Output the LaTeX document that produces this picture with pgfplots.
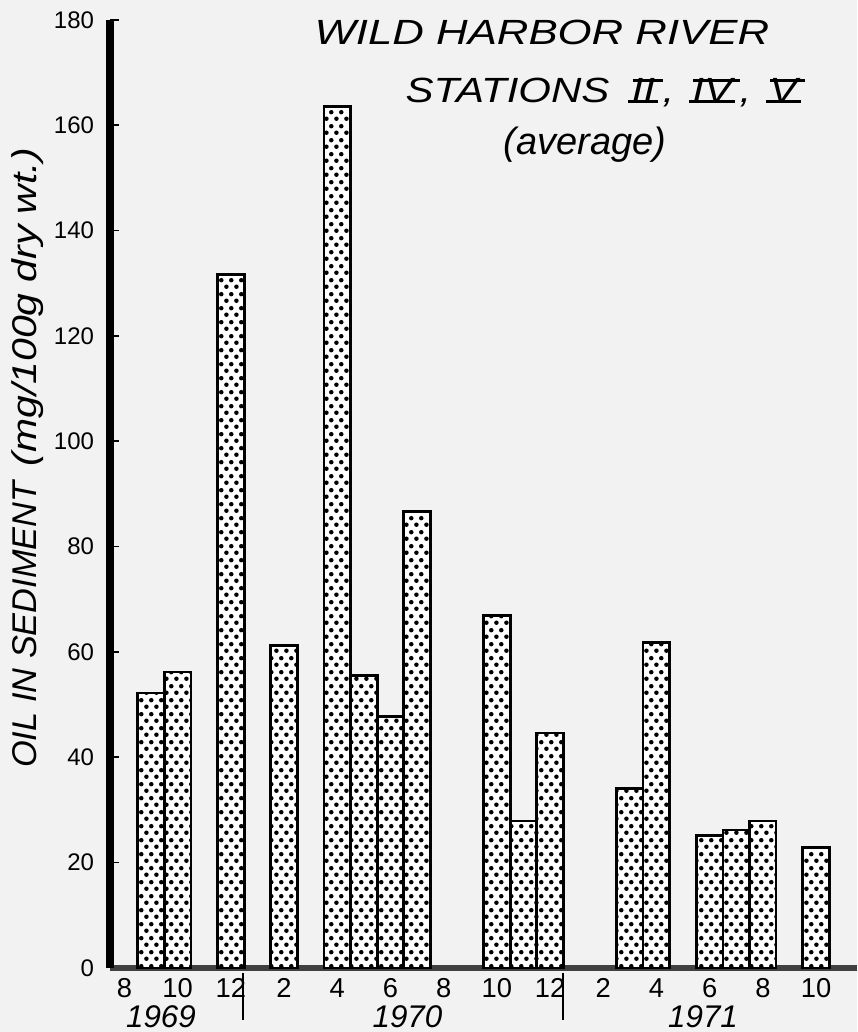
\documentclass[border=0pt]{standalone}
\usepackage{pgfplots}
\pgfplotsset{compat=1.18}
\usepackage{fontspec}
\setmainfont{Liberation Sans}
\usepackage{graphicx}
\usetikzlibrary{patterns}

\pgfdeclarepatternformonly{mydots}{\pgfqpoint{0pt}{0pt}}{\pgfqpoint{3.1pt}{4.2pt}}{\pgfqpoint{3.1pt}{4.2pt}}{%
 \pgfpathcircle{\pgfqpoint{0.775pt}{1.05pt}}{0.72pt}%
 \pgfpathcircle{\pgfqpoint{2.325pt}{3.15pt}}{0.72pt}%
 \pgfusepath{fill}}

\newcommand{\rn}[1]{\begingroup\setbox0=\hbox{\kern0.08em#1\kern0.08em}%
  \rlap{\rule{\wd0}{0.8pt}}%
  \rlap{\kern0.15\ht0\raisebox{\dimexpr\ht0-0.8pt\relax}{\rule{\wd0}{0.8pt}}}%
  \box0\endgroup}

\pgfplotstableread{
m   v
1   52.2
2   56.2
4   131.7
6   61.2
8   163.6
9   55.6
10  47.7
11  86.7
14  66.9
15  27.9
16  44.6
19  34.1
20  61.8
22  25.2
23  26.2
24  27.9
26  22.9
}\oildata

\begin{document}
\begin{tikzpicture}
\fill[black!5] (-33pt,-19.2pt) rectangle (224.1pt,290.4pt);
\useasboundingbox (-33pt,-19.2pt) rectangle (224.1pt,290.4pt);
\begin{axis}[
  at={(0pt,0pt)}, anchor=south west,
  scale only axis, width=224.1pt, height=284.4pt,
  xmin=-0.545, xmax=27.54, ymin=0, ymax=180,
  enlargelimits=false, clip=false,
  axis x line*=bottom, axis y line*=left,
  x axis line style={line width=1.6pt, black!75},
  y axis line style={line width=2.2pt, black},
  xtick={0,2,...,26},
  xticklabels={8,10,12,2,4,6,8,10,12,2,4,6,8,10},
  xtick style={draw=none},
  ytick={0,20,...,180},
  ytick style={line width=0.5pt, black},
  tick align=inside, major tick length=2.8pt,
  /pgf/number format/assume math mode=true,
  xticklabel style={font=\fontsize{8.2}{9}\selectfont, inner sep=0pt, anchor=north, yshift=-3pt},
  yticklabel style={font=\fontsize{7.2}{8}\selectfont, inner sep=0pt, anchor=east, xshift=-4.6pt},
]
\addplot[ybar, bar width=1, bar shift=0pt, draw=black, line width=0.8pt, fill=white,
  postaction={pattern=mydots}] table[x=m, y=v] {\oildata};
\end{axis}

% separators between years
\draw[line width=0.6pt] (39.9pt,-1.5pt) -- (39.9pt,-15.6pt);
\draw[line width=0.6pt] (135.9pt,-1.5pt) -- (135.9pt,-15.6pt);

% years
\node[anchor=base, inner sep=0pt, font=\fontsize{9.4}{10}\selectfont\itshape] at (15.3pt,-17.7pt) {1969};
\node[anchor=base, inner sep=0pt, font=\fontsize{9.4}{10}\selectfont\itshape] at (89.25pt,-17.7pt) {1970};
\node[anchor=base, inner sep=0pt, font=\fontsize{9.4}{10}\selectfont\itshape] at (177.9pt,-17.7pt) {1971};

% y label
\node[rotate=90, anchor=base, inner sep=0pt, font=\fontsize{10.3}{12}\selectfont\itshape] at (-21.9pt,153pt)
  {OIL IN SEDIMENT\hspace{0.45em}\scalebox{1.19}[1]{(mg/100g dry wt.)}};

% title
\node[anchor=base west, inner sep=0pt, font=\fontsize{10.5}{12}\selectfont\itshape] at (61.2pt,276.9pt)
  {\scalebox{1.25}[1]{WILD HARBOR RIVER}};
\node[anchor=base west, inner sep=0pt, font=\fontsize{10.5}{12}\selectfont\itshape] at (88.5pt,259.5pt)
  {\scalebox{1.2}[1]{STATIONS\hspace{0.45em}\rn{II}\kern0.1em,\hspace{0.35em}\rn{IV}\kern0.1em,\hspace{0.35em}\rn{V}}};
\node[anchor=base west, inner sep=0pt, font=\fontsize{11.4}{13}\selectfont\itshape] at (117.9pt,243.9pt)
  {(average)};
\end{tikzpicture}
\end{document}
